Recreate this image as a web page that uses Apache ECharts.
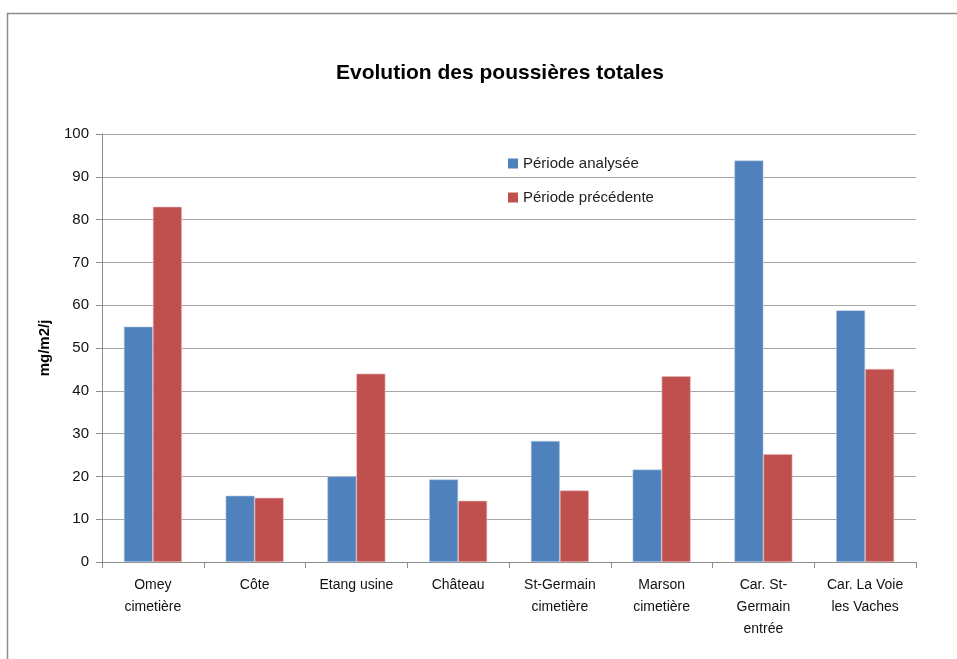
<!DOCTYPE html>
<html><head><meta charset="utf-8">
<script src="https://cdn.jsdelivr.net/npm/echarts@6/dist/echarts.min.js"></script>
<style>html,body{margin:0;padding:0;background:#fff}#c{width:957px;height:659px}</style>
</head><body><div id="c"></div>
<script>
const categories = ['Omey\ncimetière','Côte','Etang usine','Château','St-Germain\ncimetière','Marson\ncimetière','Car. St-\nGermain\nentrée','Car. La Voie\nles Vaches'];
const analysee = [55, 15.5, 20, 19.3, 28.3, 21.6, 93.8, 58.8];
const precedente = [83, 15, 44, 14.3, 16.7, 43.4, 25.2, 45.1];
const yTicks = {min: 0, max: 100, interval: 10};
const FONT = 'Liberation Sans';
const chart = echarts.init(document.getElementById('c'));
chart.setOption({
  animation: false,
  textStyle: {fontFamily: FONT},
  title: {text: 'Evolution des poussières totales', left: 331, top: 58,
    textStyle: {fontFamily: FONT, fontSize: 21, fontWeight: 'bold', color: '#000'}},
  graphic: [{type: 'rect', shape: {x: 7.5, y: 13.5, width: 1000, height: 700},
    style: {fill: 'none', stroke: '#8c8c8c', lineWidth: 1.5}, silent: true}],
  legend: {orient: 'vertical', left: 503, top: 151, itemWidth: 10, itemHeight: 10, itemGap: 19,
    icon: 'rect', itemStyle: {borderWidth: 0},
    textStyle: {fontFamily: FONT, fontSize: 15, color: '#222'},
    data: ['Période analysée', 'Période précédente']},
  grid: {left: 102, right: 41, top: 134, bottom: 97, containLabel: false},
  xAxis: {type: 'category', data: categories,
    axisLine: {lineStyle: {color: '#8c8c8c', width: 1}},
    axisTick: {show: true, length: 6, lineStyle: {color: '#8c8c8c'}},
    axisLabel: {interval: 0, fontSize: 14, color: '#111', lineHeight: 22, margin: 12, fontFamily: FONT}},
  yAxis: {type: 'value', min: yTicks.min, max: yTicks.max, interval: yTicks.interval,
    name: 'mg/m2/j', nameLocation: 'middle', nameGap: 50, nameRotate: 90,
    nameTextStyle: {fontFamily: FONT, fontSize: 15, fontWeight: 'bold', color: '#000'},
    axisLine: {show: true, lineStyle: {color: '#8c8c8c'}},
    axisTick: {show: true, length: 6, lineStyle: {color: '#8c8c8c'}},
    axisLabel: {fontSize: 15, color: '#111', margin: 13, fontFamily: FONT},
    splitLine: {lineStyle: {color: '#a6a6a6', width: 1}}},
  series: [
    {name: 'Période analysée', type: 'bar', data: analysee, barWidth: 29, barGap: '0%',
      itemStyle: {color: '#4f81bd', borderColor: '#b9cde5', borderWidth: 0.6}},
    {name: 'Période précédente', type: 'bar', data: precedente, barWidth: 29, barGap: '0%',
      itemStyle: {color: '#c0504d', borderColor: '#e6b9b8', borderWidth: 0.6}}
  ]
});
</script></body></html>
